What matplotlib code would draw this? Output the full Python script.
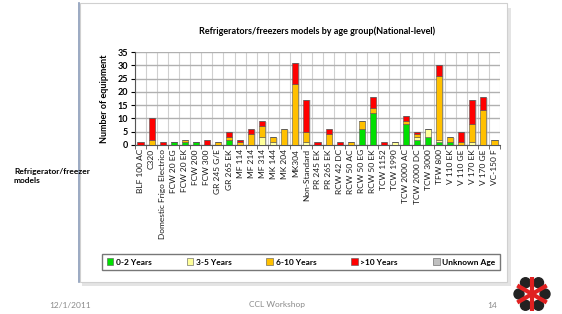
import numpy as np
import matplotlib
matplotlib.use("Agg")
import matplotlib.pyplot as plt
from matplotlib.patches import Rectangle, Circle

plt.rcParams["font.family"] = ["Lato", "DejaVu Sans"]

models = ["BLF 100 AC", "C320", "Domestic Frigo Electrico", "FCW 20 EG", "FCW 20 EK",
          "FCW 200", "FCW 300", "GR 245 G/E", "GR 265 EK", "MF 114", "MF 214", "MF 314",
          "MK 144", "MK 204", "MK304", "Non-Standard", "PR 245 EK", "PR 265 EK",
          "RCW 42 DC", "RCW 50 AC", "RCW 50 EG", "RCW 50 EK", "TCW 1152", "TCW 1990",
          "TCW 2000 AC", "TCW 2000 DC", "TCW 3000", "TFW 800", "V 110 EK", "V 110 GE",
          "V 170 EK", "V 170 GE", "VC-150 F"]

age_0_2 = [0, 0, 0, 1, 1, 1, 0, 0, 2, 0, 0, 0, 0, 0, 0, 0, 0, 0,
           0, 0, 6, 12, 0, 0, 8, 2, 3, 1, 1, 0, 0, 0, 0]
age_3_5 = [0, 0, 0, 0, 0, 0, 0, 0, 0, 0, 0, 3, 1, 0, 0, 1, 0, 0,
           0, 0, 0, 0, 0, 1, 0, 1, 3, 1, 0, 0, 1, 0, 0]
age_6_10 = [0, 2, 0, 0, 1, 0, 0, 1, 1, 1, 4, 4, 2, 6, 23, 4, 0, 4,
            0, 1, 3, 2, 0, 0, 1, 1, 0, 24, 2, 1, 7, 13, 2]
age_10p = [1, 8, 1, 0, 0, 0, 2, 0, 2, 1, 2, 2, 0, 0, 8, 12, 1, 2,
           1, 0, 0, 4, 1, 0, 2, 1, 0, 4, 0, 4, 9, 5, 0]
age_unknown = [0] * len(models)

series = [("0-2 Years", age_0_2, "#00e000"),
          ("3-5 Years", age_3_5, "#ffff99"),
          ("6-10 Years", age_6_10, "#ffc000"),
          (">10 Years", age_10p, "#ff0000"),
          ("Unknown Age", age_unknown, "#c0c0c0")]

W, H = 562, 314
fig = plt.figure(figsize=(W / 100, H / 100), dpi=100)
fig.patch.set_facecolor("white")


def fx(px):
    return px / W


def fy(py):
    return 1 - py / H


# chart frame with soft shadow
fig.patches.append(Rectangle((fx(82), fy(286)), fx(509) - fx(80), fy(4) - fy(282),
                             transform=fig.transFigure, facecolor="#e4e4e4",
                             edgecolor="none", zorder=0))
fig.patches.append(Rectangle((fx(80), fy(282)), fx(507) - fx(80), fy(3) - fy(282),
                             transform=fig.transFigure, facecolor="white",
                             edgecolor="#d0d0d0", lw=0.8, zorder=1))
fig.lines.append(plt.Line2D([fx(79), fx(79)], [fy(3), fy(282)], transform=fig.transFigure,
                            color="#8a9bb8", lw=1.2, zorder=2))

ax = fig.add_axes([fx(135), fy(145), fx(500) - fx(135), fy(52) - fy(145)])
ax.set_zorder(3)
x = np.arange(len(models))
bottom = np.zeros(len(models))
for name, vals, col in series:
    v = np.array(vals, dtype=float)
    # shadow
    ax.bar(x + 0.12, v, 0.55, bottom=bottom - 0.25, color="#bdbdbd", alpha=0.5,
           edgecolor="none", zorder=2)
    ax.bar(x, v, 0.55, bottom=bottom, color=col, edgecolor="#555555", lw=0.4,
           label=name, zorder=3)
    bottom += v

ax.set_xlim(-0.5, len(models) - 0.5)
ax.set_ylim(0, 35)
ax.set_yticks(range(0, 36, 5))
ax.set_xticks(x)
ax.set_xticks(np.arange(-0.5, len(models), 1), minor=True)
ax.set_xticklabels(models, rotation=90, fontsize=6, color="#1a1a1a")
ax.tick_params(axis="x", which="major", length=0, pad=3)
ax.tick_params(axis="x", which="minor", length=3, color="#555555")
ax.tick_params(axis="y", labelsize=6.5, length=3, pad=2)
for lab in ax.get_yticklabels():
    lab.set_fontweight("bold")
ax.grid(axis="y", color="#b0b0b0", lw=1.0, zorder=0)
ax.grid(axis="x", which="minor", color="#d0d0d0", lw=0.8, zorder=0)
ax.set_axisbelow(True)
for side in ["top", "right"]:
    ax.spines[side].set_visible(False)
ax.spines["left"].set_color("#555555")
ax.spines["bottom"].set_color("#555555")
ax.set_ylabel("Number of equipment", fontsize=6.5, fontweight="bold", labelpad=6)
ax.set_title("Refrigerators/freezers models by age group(National-level)",
             fontsize=6.5, fontweight="bold", pad=13)

handles, labels = ax.get_legend_handles_labels()
leg = fig.legend(handles, labels, loc="center", ncol=5,
                 bbox_to_anchor=(fx(301), fy(262)), fontsize=6, frameon=True,
                 fancybox=False, edgecolor="#555555", handlelength=0.8, handleheight=0.8,
                 columnspacing=4.2, handletextpad=0.3, borderpad=0.5, borderaxespad=0)
leg.get_frame().set_linewidth(1.0)
for t in leg.get_texts():
    t.set_fontweight("bold")

fig.text(fx(14), fy(168), "Refrigerator/freezer\nmodels", fontsize=6, fontweight="bold",
         va="top", ha="left", linespacing=1.3)
fig.text(fx(70), fy(305), "12/1/2011", fontsize=6, color="#8a8a8a", ha="center", va="center")
fig.text(fx(277), fy(305), "CCL Workshop", fontsize=6, color="#8a8a8a", ha="center", va="center")
fig.text(fx(492), fy(305), "14", fontsize=6, color="#8a8a8a", ha="center", va="center")

# logo
lax = fig.add_axes([fx(512), fy(314), fx(552) - fx(512), fy(274) - fy(314)])
lax.set_xlim(-1, 1)
lax.set_ylim(-1, 1)
lax.set_aspect("equal")
lax.axis("off")
for ang in [90, 150, 210, 270, 330, 30]:
    a = np.deg2rad(ang)
    lax.plot([0, 0.85 * np.cos(a)], [0, 0.85 * np.sin(a)], color="#e02020", lw=3,
             solid_capstyle="butt")
for ang in [60, 120, 180, 240, 300, 0]:
    a = np.deg2rad(ang)
    lax.add_patch(Circle((0.65 * np.cos(a), 0.65 * np.sin(a)), 0.25, color="#222222"))

fig.savefig("out.png", dpi=100)
